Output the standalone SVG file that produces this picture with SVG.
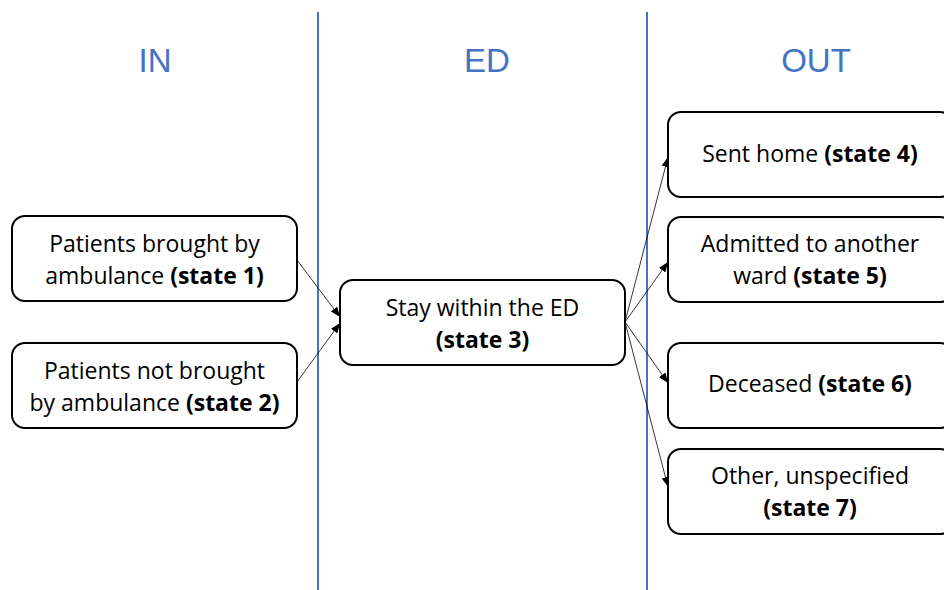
<svg xmlns="http://www.w3.org/2000/svg" width="944" height="590" viewBox="0 0 944 590">
<style>
.box{fill:#fff;stroke:#000;stroke-width:2}
.t{font-family:"Open Sans","Liberation Sans",Arial,sans-serif;font-size:23px;fill:#000;text-anchor:middle}
.b{font-weight:bold}
.h{font-family:"Liberation Sans",Arial,sans-serif;font-size:33px;fill:#4472C4;text-anchor:middle}
.lane{stroke:#4472C4;stroke-width:2}
.c{stroke:#000;stroke-width:0.8;fill:none;marker-end:url(#ah)}
</style>
<defs>
<marker id="ah" markerWidth="10" markerHeight="8" refX="10" refY="4" orient="auto" markerUnits="userSpaceOnUse">
<path d="M0,0 L10,4 L0,8 z" fill="#000"/>
</marker>
</defs>
<rect width="944" height="590" fill="#fff"/>
<g id="lanes">
<line class="lane" x1="318" y1="12" x2="318" y2="590"/>
<line class="lane" x1="647" y1="12" x2="647" y2="590"/>
<text class="h" x="155" y="72">IN</text>
<text class="h" x="487" y="72">ED</text>
<text class="h" x="816" y="72">OUT</text>
</g>
<g id="connectors">
<line class="c" x1="297" y1="260" x2="340" y2="317"/>
<line class="c" x1="297" y1="382" x2="340" y2="323"/>
<line class="c" x1="625" y1="322" x2="668" y2="157"/>
<line class="c" x1="625" y1="322" x2="668" y2="262"/>
<line class="c" x1="625" y1="322" x2="668" y2="383"/>
<line class="c" x1="625" y1="322" x2="668" y2="487"/>
</g>
<g id="state1">
<rect class="box" x="12" y="216" width="285" height="85" rx="13"/>
<text class="t" x="154.5" y="252">Patients brought by</text>
<text class="t" x="154.5" y="284">ambulance <tspan class="b">(state 1)</tspan></text>
</g>
<g id="state2">
<rect class="box" x="12" y="343" width="285" height="85" rx="13"/>
<text class="t" x="154.5" y="379">Patients not brought</text>
<text class="t" x="154.5" y="411">by ambulance <tspan class="b">(state 2)</tspan></text>
</g>
<g id="state3">
<rect class="box" x="340" y="280" width="285" height="85" rx="13"/>
<text class="t" x="482.5" y="316">Stay within the ED</text>
<text class="t b" x="482.5" y="348">(state 3)</text>
</g>
<g id="state4">
<rect class="box" x="668" y="112" width="285" height="85" rx="13"/>
<text class="t" x="810" y="162">Sent home <tspan class="b">(state 4)</tspan></text>
</g>
<g id="state5">
<rect class="box" x="668" y="217" width="285" height="85" rx="13"/>
<text class="t" x="810" y="252">Admitted to another</text>
<text class="t" x="810" y="284">ward <tspan class="b">(state 5)</tspan></text>
</g>
<g id="state6">
<rect class="box" x="668" y="343" width="285" height="85" rx="13"/>
<text class="t" x="810" y="392">Deceased <tspan class="b">(state 6)</tspan></text>
</g>
<g id="state7">
<rect class="box" x="668" y="449" width="285" height="85" rx="13"/>
<text class="t" x="810" y="484">Other, unspecified</text>
<text class="t b" x="810" y="516">(state 7)</text>
</g>
</svg>
